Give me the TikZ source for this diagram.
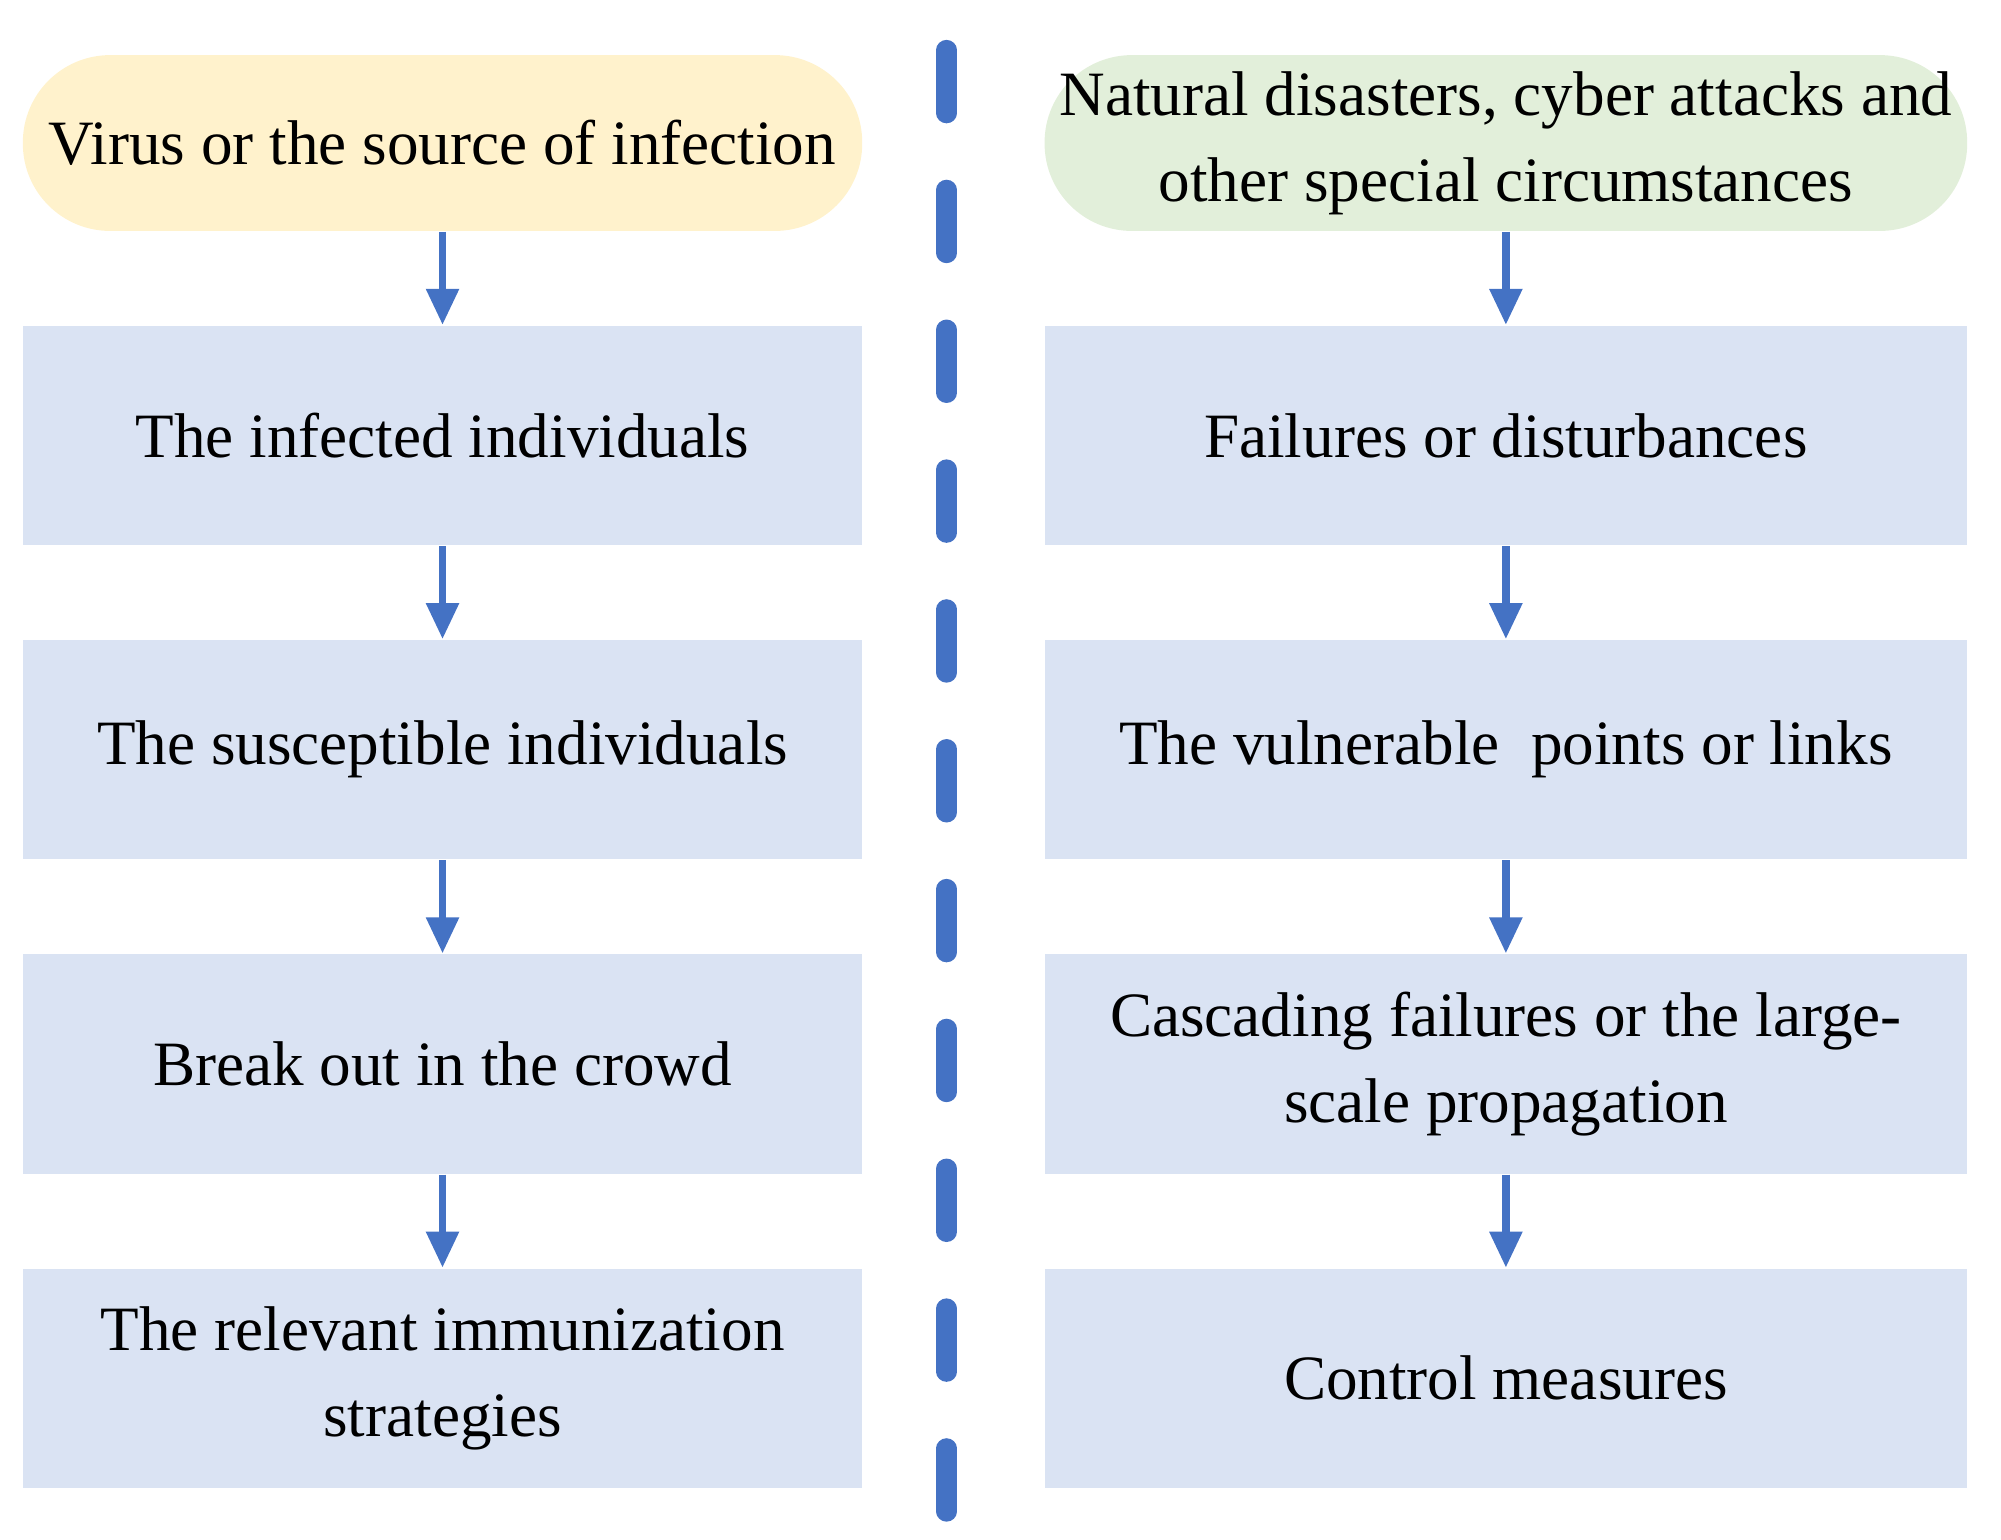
\documentclass[tikz,border=0pt]{standalone}
\usepackage{fontspec}
\setmainfont{Liberation Serif}
\begin{document}
\begin{tikzpicture}[x=0.01cm,y=-0.01cm,
  box/.style={fill=boxc,draw=none,minimum height=1.71cm,align=center,font=\fontsize{14}{19}\selectfont},
  pill/.style={box,rounded corners=0.68cm,minimum height=1.37cm},
  arr/.style={draw=arrc,line width=1.6pt,-{Triangle[width=7pt,length=8pt]}}]
\definecolor{boxc}{HTML}{DAE3F3}
\definecolor{arrc}{HTML}{4472C4}
\definecolor{yel}{HTML}{FFF2CC}
\definecolor{grn}{HTML}{E2EFDA}
\usetikzlibrary{arrows.meta}
\useasboundingbox (0,0) rectangle (1560,1200);
\node[pill,fill=yel,minimum width=6.54cm] (l0) at (345,111.5) {Virus or the source of infection};
\node[box,minimum width=6.54cm] (l1) at (345,339.5) {The infected individuals};
\node[box,minimum width=6.54cm] (l2) at (345,584.5) {The susceptible individuals};
\node[box,minimum width=6.54cm] (l3) at (345,829.5) {Break out in the crowd};
\node[box,minimum width=6.54cm] (l4) at (345,1074.5) {The relevant immunization\\strategies};
\node[pill,fill=grn,minimum width=7.18cm] (r0) at (1174,111.5) {Natural disasters, cyber attacks and\\other special circumstances};
\node[box,minimum width=7.18cm] (r1) at (1174,339.5) {Failures or disturbances};
\node[box,minimum width=7.18cm] (r2) at (1174,584.5) {The vulnerable\ \ points or links};
\node[box,minimum width=7.18cm] (r3) at (1174,829.5) {Cascading failures or the large-\\scale propagation};
\node[box,minimum width=7.18cm] (r4) at (1174,1074.5) {Control measures};
\foreach \a/\b in {l0/l1,l1/l2,l2/l3,l3/l4,r0/r1,r1/r2,r2/r3,r3/r4}
  \draw[arr] (\a.south) -- (\b.north);
\coordinate (dt) at (738,39);
\coordinate (db) at (738,1188);
\draw[arrc,line width=4.5pt,line cap=round,dash pattern=on 14pt off 17pt] (dt) -- (db);
\end{tikzpicture}
\end{document}
